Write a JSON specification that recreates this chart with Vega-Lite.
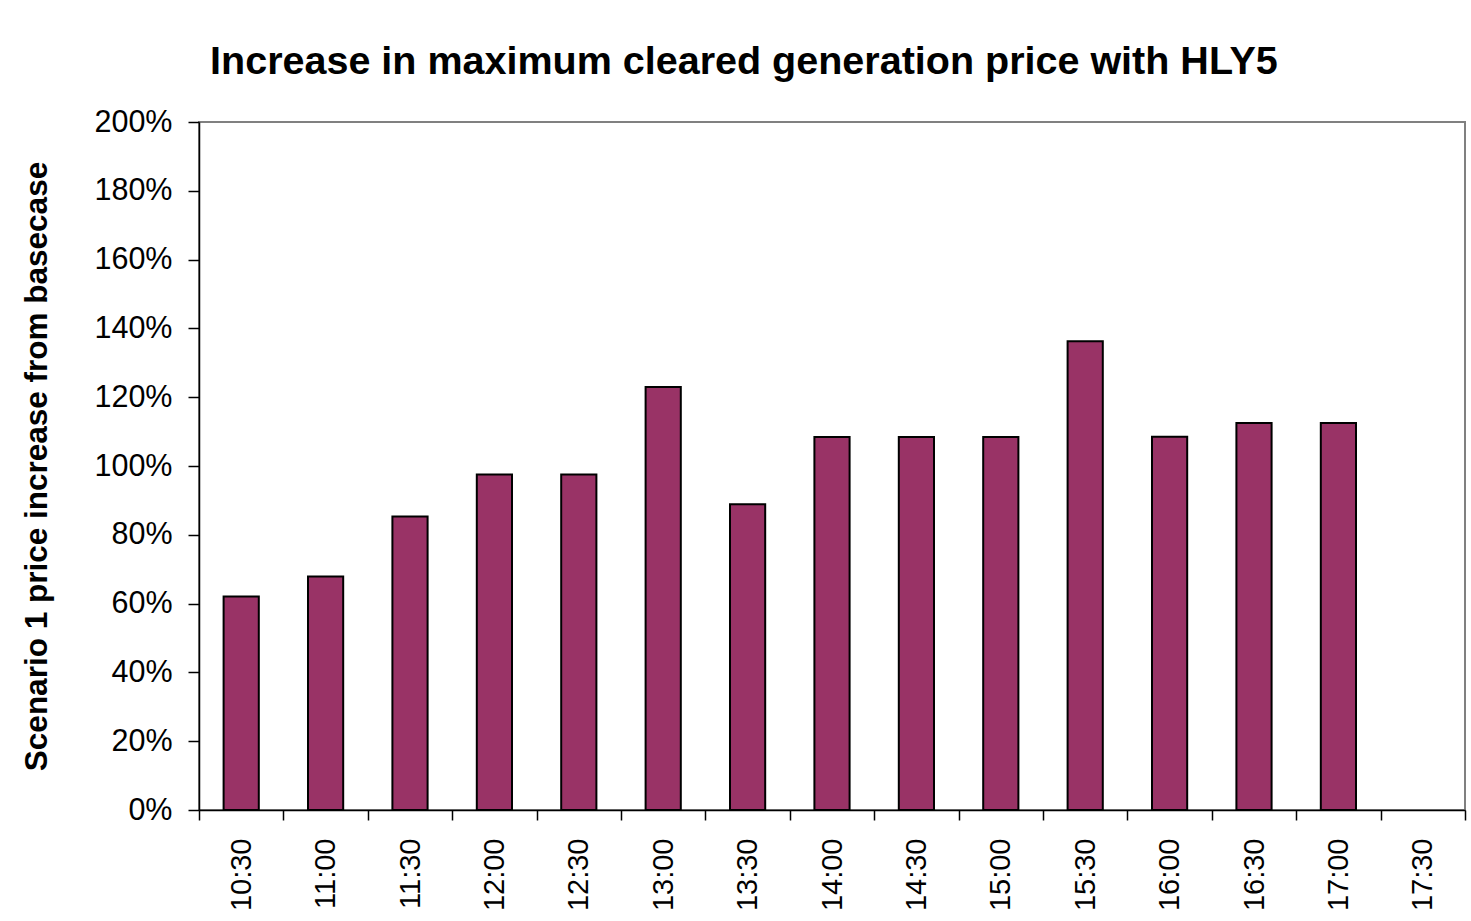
{
  "$schema": "https://vega.github.io/schema/vega-lite/v6.json",
  "width": 1266,
  "height": 688,
  "autosize": {"type": "none"},
  "padding": {"left": 199, "top": 122, "right": 6, "bottom": 111},
  "background": "white",
  "title": {
    "text": "Increase in maximum cleared generation price with HLY5",
    "font": "Liberation Sans",
    "fontSize": 39.5,
    "fontWeight": "bold",
    "color": "black",
    "anchor": "middle",
    "frame": "bounds",
    "offset": 25
  },
  "data": {
    "values": [
      {"time": "10:30", "value": 0.621},
      {"time": "11:00", "value": 0.679},
      {"time": "11:30", "value": 0.853},
      {"time": "12:00", "value": 0.975},
      {"time": "12:30", "value": 0.975},
      {"time": "13:00", "value": 1.23},
      {"time": "13:30", "value": 0.889},
      {"time": "14:00", "value": 1.084},
      {"time": "14:30", "value": 1.084},
      {"time": "15:00", "value": 1.084},
      {"time": "15:30", "value": 1.363},
      {"time": "16:00", "value": 1.085},
      {"time": "16:30", "value": 1.125},
      {"time": "17:00", "value": 1.125},
      {"time": "17:30", "value": null}
    ]
  },
  "mark": {"type": "bar", "color": "#993366", "stroke": "black", "strokeWidth": 2, "width": {"band": 0.417}},
  "encoding": {
    "x": {
      "field": "time",
      "type": "ordinal",
      "sort": null,
      "scale": {
        "domain": ["10:30", "11:00", "11:30", "12:00", "12:30", "13:00", "13:30", "14:00", "14:30", "15:00", "15:30", "16:00", "16:30", "17:00", "17:30"],
        "paddingInner": 0,
        "paddingOuter": 0
      },
      "axis": {
        "title": null,
        "labelAngle": -90,
        "labelFont": "Liberation Sans",
        "labelFontSize": 29,
        "labelColor": "black",
        "labelPadding": 18,
        "tickBand": "extent",
        "tickSize": 10,
        "tickColor": "black",
        "tickWidth": 1.5,
        "domainColor": "black",
        "domainWidth": 1.5
      }
    },
    "y": {
      "field": "value",
      "type": "quantitative",
      "scale": {"domain": [0, 2], "nice": false},
      "axis": {
        "title": "Scenario 1 price increase from basecase",
        "titleFont": "Liberation Sans",
        "titleFontSize": 31.5,
        "titleFontWeight": "bold",
        "titleColor": "black",
        "titlePadding": 40,
        "format": ".0%",
        "values": [0, 0.2, 0.4, 0.6, 0.8, 1.0, 1.2, 1.4, 1.6, 1.8, 2.0],
        "labelFont": "Liberation Sans",
        "labelFontSize": 30.5,
        "labelColor": "black",
        "labelPadding": 16,
        "tickSize": 11,
        "tickColor": "black",
        "tickWidth": 1.5,
        "domainColor": "black",
        "domainWidth": 1.5,
        "grid": false
      }
    }
  },
  "config": {
    "view": {"stroke": "#808080", "strokeWidth": 2}
  }
}
